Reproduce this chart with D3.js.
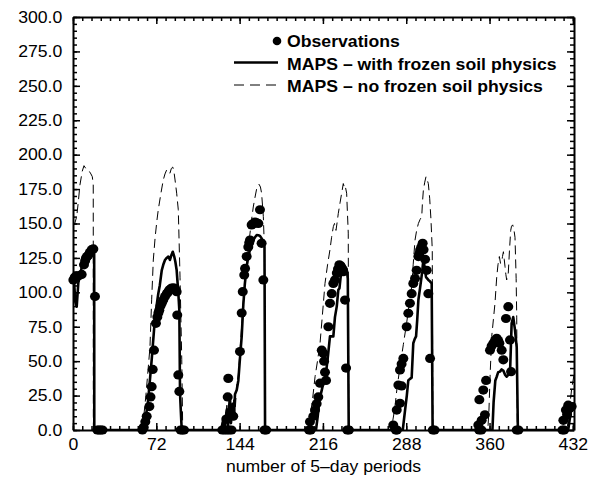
<!DOCTYPE html>
<html>
<head>
<meta charset="utf-8">
<script src="https://cdn.jsdelivr.net/npm/d3@7"></script>
<style>
  body { margin: 0; background: #fff; }
  text { font-family: "Liberation Sans", Arial, sans-serif; }
</style>
</head>
<body>
<script>
"use strict"

// tick labels
const xTickValues = [0, 72, 144, 216, 288, 360, 432]
const yTickValues = [0, 25, 50, 75, 100, 125, 150, 175, 200, 225, 250, 275, 300]
const xMinor      = d3.range(0, 433, 8)
const yMinor      = d3.range(0, 301, 5)
const xTitle      = "number of 5\u2013day periods"
const legendNames = ["Observations", "MAPS \u2013 with frozen soil physics", "MAPS \u2013 no frozen soil physics"]

// observations [period, value]
const observed = [
  [0.3, 109], [1.5, 111], [3.2, 112], [5, 112], [7.5, 113], [9.5, 120], [10.5, 123], [11.2, 125], [12.2, 126],
  [13.2, 127], [14.5, 129], [16.1, 131], [17.6, 131.5], [19, 97],
  [21, 0], [22.5, 0], [24, 0], [25.5, 0],
  [60, 0], [61, 2], [62.5, 6], [63.7, 10], [66, 17], [67, 24], [68, 31.5], [68.9, 44], [70, 58], [71.7, 77.5],
  [72.9, 82], [73.8, 85], [74.6, 87], [75.6, 90], [76.7, 92], [78, 94.4], [79.5, 97], [81, 99], [82, 100],
  [83.2, 101.7], [84.3, 102.5], [85.3, 103], [86.5, 103], [87.6, 103], [88.6, 102], [89.6, 100.5], [90.1, 83.5],
  [91, 40], [91.9, 28],
  [93, 0], [94.5, 0], [96, 0],
  [129, 0], [131, 0], [133, 0], [135, 0], [137, 0],
  [132.5, 8], [133.7, 24], [134.2, 37.5], [135.7, 12], [138.5, 10],
  [144.3, 57], [145.8, 85], [146.7, 100.5], [148, 112.6], [148.7, 117.4], [150.1, 126], [151.5, 133], [152.3, 136],
  [153, 138], [154.4, 149], [155.8, 150], [157.3, 151], [158.8, 150.5], [160.2, 150], [161.6, 160], [163, 135.6],
  [164.5, 109],
  [165.5, 0], [167, 0],
  [204, 0], [205.5, 0],
  [204.8, 6], [207.7, 10], [209.2, 14.5], [210.6, 19], [212, 24], [213.5, 34], [215, 58], [216.3, 55.7], [217, 50],
  [217.8, 42], [218.7, 36], [220.7, 75], [222.1, 92], [223.6, 99], [225, 106.5], [226.4, 109], [228, 114],
  [229, 117], [230.2, 120], [231.2, 119], [232.2, 117.4], [233.6, 115], [235.1, 94.4], [236, 45],
  [237, 0], [238.5, 0],
  [279, 0], [280, 0],
  [276.8, 3.6], [279.8, 14.5], [281.2, 32.7], [282.6, 19.4], [284, 32], [282.6, 43.6], [284, 48], [285.5, 52],
  [288.4, 75], [289.8, 84.8], [291.2, 92], [292.7, 99], [294.1, 106.5], [295.6, 110], [297, 116], [298.5, 126],
  [299.3, 128], [300, 130.7], [301, 133], [302.2, 135.6], [303, 131], [304.3, 124], [305.7, 116], [307.1, 99],
  [308.6, 52],
  [311, 0], [312.5, 0],
  [351, 0], [353, 0],
  [350.3, 3.6], [353.2, 7], [356, 11], [351.2, 22], [354.6, 29], [357, 36], [360.4, 58], [361.8, 61], [363.3, 63],
  [364.7, 65], [366.2, 66.6], [367.5, 65], [368.5, 63], [370.5, 58], [371.9, 51], [374.2, 81], [376.2, 89.6],
  [377.7, 65.4], [378.6, 42.4],
  [383.5, 0], [385, 0],
  [423, 0], [424.5, 0], [423.8, 7], [426, 14.5], [427, 11], [428, 18], [429.5, 16], [431, 17],
]

// MAPS with frozen soil physics
const withFrozen = [
  [0, 109], [1, 107], [2, 93], [3.2, 89.6], [4.6, 107], [6, 112], [7.5, 118], [8.9, 121], [10.3, 125], [11.8, 128],
  [13.5, 130], [15, 131], [16.7, 133], [18.3, 130], [18.4, 0],
  [61, 0], [63, 10], [65, 22], [68, 51], [70.9, 82], [73.7, 99], [75, 105], [76.7, 116], [78, 120], [79.5, 123.5],
  [81, 125], [82.4, 126], [83.8, 123.5], [85, 127], [86.2, 129.5], [87.5, 126], [88.5, 122], [89.6, 116], [91, 100],
  [91.9, 87], [92.5, 26.6], [93.5, 8], [94, 0],
  [128, 0], [130, 8], [131, 1], [133, 15], [134, 3], [135.5, 24], [136.5, 5], [138, 19], [139, 8], [140, 26],
  [141.5, 29], [142.9, 36], [144.3, 52], [145.8, 68], [147.2, 91], [148.5, 106], [150.1, 118.6], [151.5, 126],
  [153, 131], [154.4, 135], [155.8, 138], [157.3, 140], [158.8, 141.6], [160.2, 141.5], [161.6, 141], [163.9, 138],
  [165.5, 133], [166, 0],
  [210, 0], [211.5, 10], [213, 22], [215, 29], [216.3, 34], [217.8, 36], [219.3, 46], [220.5, 55], [222.1, 68],
  [223.5, 68], [225, 68], [226.4, 82], [228, 90], [229.3, 101.7], [230.3, 103], [231.3, 111], [232.5, 116],
  [233.6, 121], [235, 119], [236.5, 117], [237.5, 110], [238.3, 0],
  [285, 0], [287, 14.5], [288.5, 25], [289.8, 36], [291, 37], [292.7, 38], [294.1, 63], [295.3, 66], [296.5, 68],
  [297.5, 80], [298.5, 94.4], [300.5, 106.5], [301.8, 115], [302.8, 123.5], [304, 118], [305.1, 111], [307.1, 109],
  [308.5, 108], [310, 106.5], [310.8, 0],
  [362.5, 0], [363.5, 20], [365, 36], [366.2, 38.7], [367.5, 42], [369, 42.4], [370.5, 44], [372, 43], [373.5, 40],
  [374.8, 38.7], [376.2, 40], [377.7, 41], [379.1, 77.5], [380.5, 82], [382, 72.6], [383.5, 60], [384.5, 0],
  [428, 0], [430, 12], [431.5, 16], [433, 19],
]

// MAPS without frozen soil physics
const noFrozen = [
  [0, 148], [1.5, 150], [3.2, 155], [4.5, 165], [6, 178], [8, 188], [9.5, 192], [11, 190], [12.5, 189], [14, 188],
  [15.5, 186], [16.7, 184], [17.5, 178], [17.6, 0],
  [59, 0], [60.8, 7], [63, 25], [65, 45], [66.5, 60], [68, 95], [69.4, 123.5], [71, 140], [72.5, 152], [73.7, 160],
  [76, 172], [78, 181.6], [79.5, 186], [81, 189], [82.4, 187], [83.8, 186.5], [85, 190], [86.2, 191], [87.2, 188],
  [88.2, 181.6], [89.6, 172], [91, 160], [92.5, 111], [94, 51], [94.8, 2], [95, 0],
  [128, 0], [130, 10], [131, 2], [133, 18], [134, 5], [136, 26], [137, 10], [139, 22], [140, 12], [141.5, 32],
  [142.9, 40], [144.3, 57], [145.8, 76], [147.2, 94], [148.6, 108], [150.1, 121], [151.5, 132], [153, 143],
  [154.4, 153], [155.8, 162], [157.3, 169], [158.8, 175.5], [160.2, 178], [160.8, 178.5], [162, 176.5], [163, 172],
  [164.5, 155], [165.5, 130], [166, 0],
  [203, 0], [205, 10], [207, 22], [209.2, 38.7], [211.3, 50], [213.5, 63], [215.5, 83], [217.8, 106.5], [220, 120],
  [222.1, 131], [223.5, 140], [225, 147.7], [226, 150], [227.3, 145], [228.3, 151], [229.3, 157.4], [230.8, 165],
  [232.2, 172], [233.6, 179], [234.3, 177], [235.1, 178], [236.5, 172], [237.9, 143], [238.3, 0],
  [275, 0], [278, 15], [280, 30], [282.6, 46], [285.5, 62], [288.4, 78], [290.5, 91], [292.7, 104], [294, 120],
  [295.6, 138], [297, 145], [298.5, 150], [300, 153], [301.4, 155], [302, 165], [302.8, 174], [304, 180],
  [305.1, 184], [306, 182], [307.1, 179], [308.3, 168], [309.4, 152.5], [310.5, 131], [311, 0],
  [358.5, 0], [359.5, 14.5], [360.5, 40], [361.9, 68], [363.3, 80], [364.7, 92], [366.2, 111], [367.3, 120],
  [368.5, 126], [369.5, 121], [370.5, 122], [371.2, 126], [372, 129.5], [372.7, 124], [373.4, 118.6], [374.1, 113],
  [374.8, 109], [375.5, 112], [376.2, 114], [377.2, 130], [378.3, 145], [379, 148], [380, 149], [381, 146],
  [382, 140], [383, 110], [383.5, 82], [384, 0],
  [427, 0], [429, 15], [431, 30], [433, 40],
]

// SVG area dimensions
const area   = [591, 477]
const margin = { top : 17, right : 17, bottom : 47, left : 73 }
const width  = area[0] - margin.left - margin.right
const height = area[1] - margin.top  - margin.bottom
const fontSize = 16.5
const stretch  = 1.07   // the original lettering is a little wide

const translate = (x, y) => `translate(${x} ${y})`

const x = d3.scaleLinear().domain([0, 433]).range([0, width])
const y = d3.scaleLinear().domain([0, 300]).range([height, 0])

const svg = d3.select("body").append("svg")
  .attr("width", area[0])
  .attr("height", area[1])
  .append("g")
  .attr("transform", translate(margin.left, margin.top))

// clip the series to the plot box
svg.append("clipPath").attr("id", "plot")
  .append("rect").attr("width", width).attr("height", height)

const plot = svg.append("g").attr("clip-path", "url(#plot)")
const line = d3.line().x(d => x(d[0])).y(d => y(d[1]))

plot.append("path").datum(noFrozen)
  .attr("d", line).attr("fill", "none").attr("stroke", "#000")
  .attr("stroke-width", 1).attr("stroke-dasharray", "9,5")

plot.append("path").datum(withFrozen)
  .attr("d", line).attr("fill", "none").attr("stroke", "#000")
  .attr("stroke-width", 2.6).attr("stroke-linejoin", "round")

svg.append("g").selectAll("ellipse")
  .data(observed)
  .enter().append("ellipse")
  .attr("cx", d => x(d[0]))
  .attr("cy", d => y(d[1]))
  .attr("rx", 5)
  .attr("ry", 4.6)
  .attr("fill", "#000")

// axes, ticks on all four sides pointing inwards
const styleAxis = g => {
  g.select(".domain").attr("stroke-width", 2)
  g.selectAll(".tick line").attr("stroke-width", 1.5)
  g.selectAll("text").attr("font-size", fontSize).attr("fill", "#000")
    .attr("font-family", "'Liberation Sans', Arial, sans-serif")
    .attr("transform", `scale(${stretch},1)`)
}
const minorAxis = g => {
  g.select(".domain").remove()
  g.selectAll(".tick line").attr("stroke-width", 1.5)
}

svg.append("g").attr("transform", translate(0, height))
  .call(d3.axisBottom(x).tickValues(xMinor).tickSize(-4).tickFormat("")).call(minorAxis)
svg.append("g").call(d3.axisTop(x).tickValues(xMinor).tickSize(-4).tickFormat("")).call(minorAxis)
svg.append("g").call(d3.axisLeft(y).tickValues(yMinor).tickSize(-4).tickFormat("")).call(minorAxis)
svg.append("g").attr("transform", translate(width, 0))
  .call(d3.axisRight(y).tickValues(yMinor).tickSize(-4).tickFormat("")).call(minorAxis)

svg.append("g").attr("transform", translate(0, height))
  .call(d3.axisBottom(x).tickValues(xTickValues).tickSize(-7).tickSizeOuter(0).tickPadding(8)
    .tickFormat(d3.format("d")))
  .call(styleAxis)
svg.append("g")
  .call(d3.axisTop(x).tickValues(xTickValues).tickSize(-7).tickSizeOuter(0).tickFormat(""))
  .call(styleAxis)
svg.append("g")
  .call(d3.axisLeft(y).tickValues(yTickValues).tickSize(-7).tickSizeOuter(0).tickPadding(10)
    .tickFormat(d3.format(".1f")))
  .call(styleAxis)
svg.append("g").attr("transform", translate(width, 0))
  .call(d3.axisRight(y).tickValues(yTickValues).tickSize(-7).tickSizeOuter(0).tickFormat(""))
  .call(styleAxis)

svg.append("text")
  .attr("transform", `${translate(width / 2, height + 42)} scale(${stretch},1)`)
  .attr("text-anchor", "middle")
  .attr("font-size", fontSize)
  .text(xTitle)

// legend
const legend = svg.append("g").attr("transform", translate(287 - margin.left, 47 - margin.top))
const rows = legend.selectAll("g").data(legendNames).enter()
  .append("g").attr("transform", (d, i) => translate(0, i * 22.5))

rows.append("text")
  .attr("transform", `scale(${stretch},1)`)
  .attr("font-size", fontSize)
  .attr("font-weight", "bold")
  .text(d => d)

rows.filter((d, i) => i === 0).append("circle")
  .attr("cx", -10).attr("cy", -6).attr("r", 4.3).attr("fill", "#000")
rows.filter((d, i) => i === 1).append("line")
  .attr("x1", -53).attr("x2", -9).attr("y1", -7).attr("y2", -7)
  .attr("stroke", "#000").attr("stroke-width", 2.6)
rows.filter((d, i) => i === 2).append("line")
  .attr("x1", -53).attr("x2", -9).attr("y1", -7).attr("y2", -7)
  .attr("stroke", "#000").attr("stroke-width", 1).attr("stroke-dasharray", "10,6")
</script>
</body>
</html>
